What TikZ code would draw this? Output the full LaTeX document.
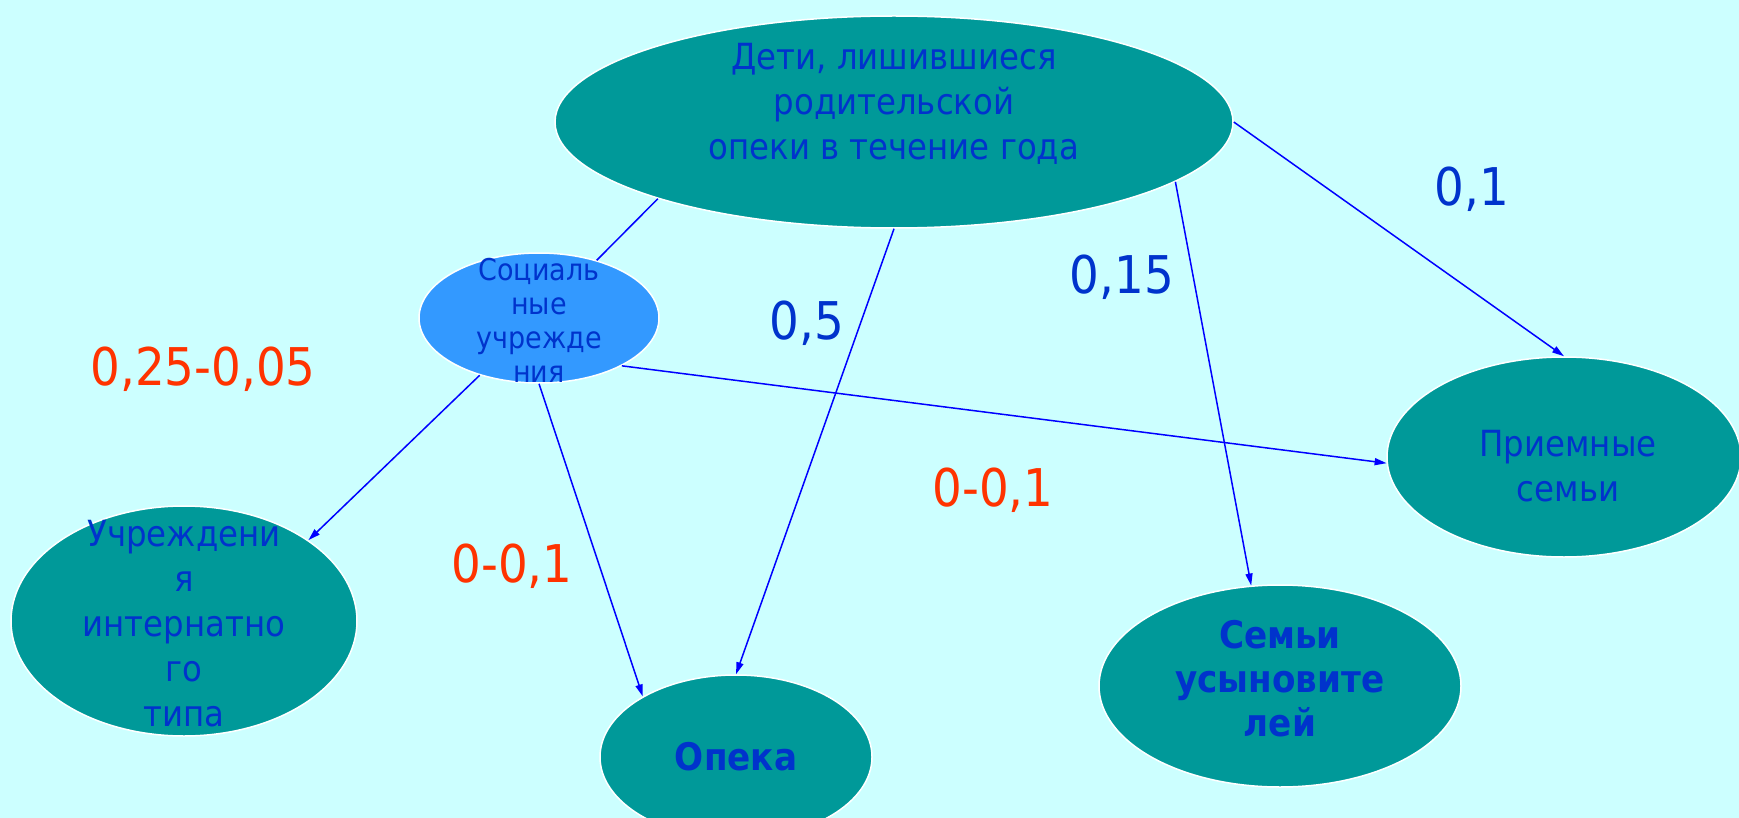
\documentclass[tikz,border=0pt]{standalone}
\usepackage{fontspec}
\setmainfont{DejaVu Sans Condensed}
\usetikzlibrary{shapes.geometric,arrows.meta}
\definecolor{bgcyan}{HTML}{CCFFFF}
\definecolor{tealfill}{HTML}{009999}
\definecolor{socblue}{HTML}{3399FF}
\definecolor{txtblue}{HTML}{0033CC}
\definecolor{lineblue}{HTML}{0000FF}
\definecolor{numred}{HTML}{FF3300}
\tikzset{
tealellipse/.style={ellipse, draw=white, fill=tealfill, line width=1.5pt, inner sep=0pt},
socellipse/.style={ellipse, draw=white, fill=socblue, line width=1.5pt, inner sep=0pt, minimum width=240pt, minimum height=130pt},
blobtext/.style={text=txtblue, align=center, inner sep=0pt, font=\fontsize{36}{45}\selectfont},
boldtext/.style={text=txtblue, align=center, inner sep=0pt, font=\fontsize{38}{44}\selectfont\bfseries},
smalltext/.style={text=txtblue, align=center, inner sep=0pt, font=\fontsize{30}{34}\selectfont},
bluenum/.style={text=txtblue, inner sep=0pt, font=\fontsize{52}{56}\selectfont},
rednum/.style={text=numred, inner sep=0pt, font=\fontsize{52}{56}\selectfont},
flowline/.style={draw=lineblue, line width=1.5pt},
flowarrow/.style={draw=lineblue, line width=1.5pt, -{Triangle[length=12pt,width=7pt]}},
}

\begin{document}
\begin{tikzpicture}[x=1pt,y=-1pt]
    \fill[bgcyan] (0,0) rectangle (1739,818);
    \useasboundingbox (0,0) rectangle (1739,818);
    % ellipses
    \node[tealellipse, minimum width=678pt, minimum height=212pt] at (894,122) (deti) {};
    \node[socellipse] at (539,318) (soc) {};
    \node[tealellipse, minimum width=346pt, minimum height=230pt] at (184,621) (internat) {};
    \node[tealellipse, minimum width=272pt, minimum height=164pt] at (736,757) (opeka) {};
    \node[tealellipse, minimum width=362pt, minimum height=202pt] at (1280,686) (usyn) {};
    \node[tealellipse, minimum width=354pt, minimum height=200pt] at (1564,457) (priem) {};
    % connectors
    \draw[flowline] (deti.-162) to (soc.45);
    \draw[flowarrow] (deti.south) to (opeka.north);
    \draw[flowarrow] (deti.-12) to (usyn.106);
    \draw[flowarrow] (deti.east) to (priem.north);
    \draw[flowarrow] (soc.-136) to (internat.33);
    \draw[flowarrow] (soc.south) to (opeka.147);
    \draw[flowarrow] (soc.-30) to (priem.182);
    % texts
    \node[blobtext] at (894,104) (detitext) {Дети, лишившиеся\\родительской\\опеки в течение года};
    \node[smalltext] at (539,320) (soctext) {Социаль\\ные\\учрежде\\ния};
    \node[blobtext] at (184,624) (internattext) {Учреждени\\я\\интернатно\\го\\типа};
    \node[boldtext] at (736,757) (opekatext) {Опека};
    \node[boldtext] at (1280,679) (usyntext) {Семьи\\усыновите\\лей};
    \node[blobtext] at (1568,466) (priemtext) {Приемные\\семьи};
    % numbers
    \node[bluenum] at (1472,189) (n01) {0,1};
    \node[bluenum] at (1122,277) (n015) {0,15};
    \node[bluenum] at (807,323) (n05) {0,5};
    \node[rednum] at (203,369) (n025) {0,25-0,05};
    \node[rednum] at (993,490) (n001a) {0-0,1};
    \node[rednum] at (512,566) (n001b) {0-0,1};
\end{tikzpicture}
\end{document}
